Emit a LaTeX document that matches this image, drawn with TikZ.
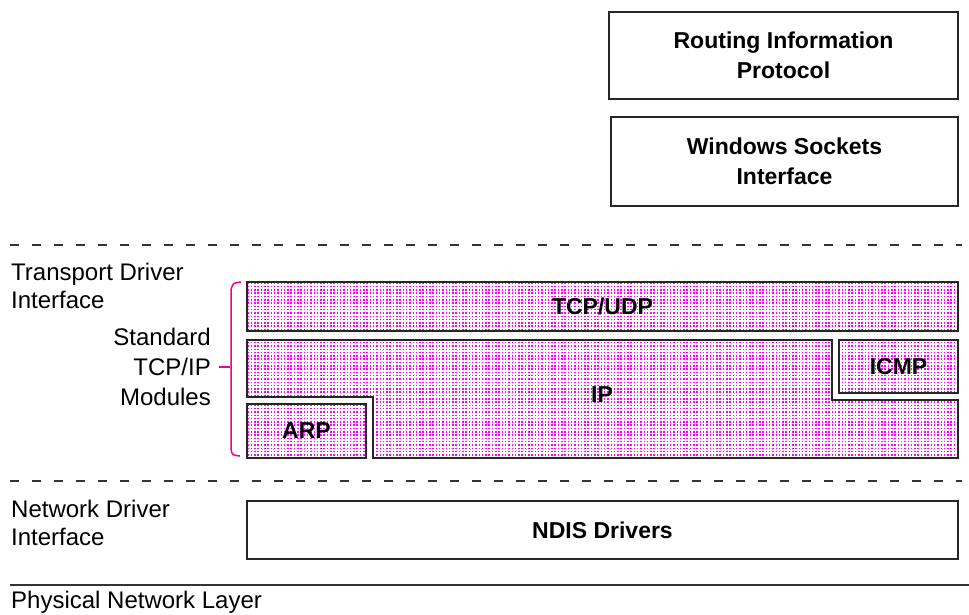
\documentclass[tikz,border=0pt]{standalone}
\usepackage{fontspec}
\setmainfont{Liberation Sans}
\usepackage{tikz}
\usepackage{xcolor}
\usetikzlibrary{patterns}
\pgfdeclarepatternformonly{pinkdots}{\pgfqpoint{-1pt}{-1pt}}{\pgfqpoint{4pt}{4pt}}{\pgfqpoint{3.3pt}{3.3pt}}{%
  \pgfpathrectangle{\pgfqpoint{0pt}{0pt}}{\pgfqpoint{1.5pt}{1.5pt}}\pgfusepath{fill}}
\tikzstyle{modul} = [rectangle, draw=black!85, line width=1.6pt, inner sep=0pt, font=\fontsize{23}{30}\selectfont\bfseries, align=center]
\tikzstyle{pinkmodul} = [modul, pattern=pinkdots, pattern color=magenta]
\tikzstyle{layertext} = [inner sep=0pt, font=\fontsize{24}{28}\selectfont, align=left]
\tikzstyle{layerline} = [black!80, line width=1.5pt]

\begin{document}
\begin{tikzpicture}[x=1pt,y=-1pt]
  \useasboundingbox (0,0) rectangle (969,614);
  \node[modul, minimum width=349pt, minimum height=87pt] (RIP) at (783.5,55.5) {Routing Information\\Protocol};
  \node[modul, minimum width=347pt, minimum height=89pt] (Win_Sock) at (784.5,161.5) {Windows Sockets\\Interface};

  \coordinate (TDI_a) at (10,245);
  \coordinate (TDI_b) at (962,245);
  \draw[layerline, dash pattern=on 9pt off 13pt] (TDI_a) -- (TDI_b);
  \node[layertext, anchor=west] (TDI) at (11,286) {Transport Driver\\Interface};

  \node[pinkmodul, minimum width=711pt, minimum height=49pt] (TCP_UDP) at (602.5,306.5) {TCP/UDP};
  \draw[black!85, line width=1.6pt, pattern=pinkdots, pattern color=magenta]
    (247,340) -- (832,340) -- (832,400) -- (958,400) -- (958,458) -- (373,458) -- (373,397) -- (247,397) -- cycle;
  \node[inner sep=0pt, font=\fontsize{23}{30}\selectfont\bfseries] (IP) at (602,395) {IP};
  \node[pinkmodul, minimum width=119pt, minimum height=53pt] (ICMP) at (898.5,366.5) {ICMP};
  \node[pinkmodul, minimum width=119pt, minimum height=54pt] (ARP) at (306.5,431) {ARP};

  \node[layertext, align=right, anchor=east, font=\fontsize{24}{30}\selectfont] (Std) at (211,367) {Standard\\TCP/IP\\Modules};
  \coordinate (Brace_tip) at (230,367);
  \draw[magenta, line width=1.5pt] (241,282) .. controls (233,283) .. (231,290) -- (231,449) .. controls (232,455) .. (240,456);
  \draw[magenta, line width=1.5pt] (Std.east) ++(8,0) -- (Brace_tip);

  \coordinate (NDI_a) at (10,481);
  \coordinate (NDI_b) at (962,481);
  \draw[layerline, dash pattern=on 9pt off 13pt] (NDI_a) -- (NDI_b);
  \node[layertext, anchor=west] (NDI) at (11,522.5) {Network Driver\\Interface};
  \node[modul, minimum width=711pt, minimum height=58pt] (NDIS) at (602.5,530) {NDIS Drivers};

  \coordinate (Phys_a) at (10,585);
  \coordinate (Phys_b) at (969,585);
  \draw[layerline] (Phys_a) -- (Phys_b);
  \node[layertext, anchor=west] (Phys) at (11,602) {Physical Network Layer};
\end{tikzpicture}
\end{document}
